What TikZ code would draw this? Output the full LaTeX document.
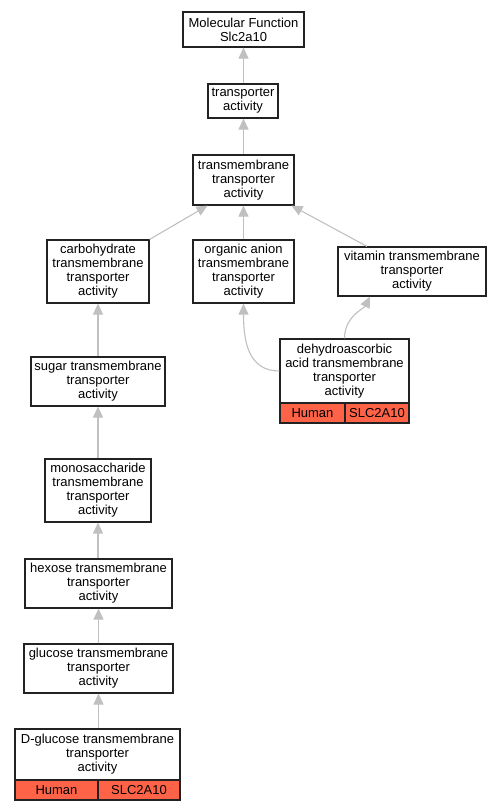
\documentclass[tikz,border=0pt]{standalone}
\usepackage{fontspec}
\setmainfont{Liberation Sans}
\usetikzlibrary{arrows.meta}
\definecolor{edgegray}{HTML}{C0C0C0}
\definecolor{boxline}{HTML}{222222}
\definecolor{orgred}{HTML}{FF6347}
\begin{document}
\begin{tikzpicture}[x=1pt,y=-1pt,
  term/.style={draw=boxline, line width=1.2pt, fill=white, align=center, inner sep=0pt,
    font=\fontsize{13}{14}\selectfont},
  cell/.style={draw=boxline, line width=1.2pt, fill=orgred, inner sep=0pt,
    minimum height=20pt, font=\fontsize{13}{14}\selectfont},
  isa/.style={draw=edgegray, line width=1.1pt, -{Triangle[length=11pt,width=10pt]}}
]
\useasboundingbox (0,0) rectangle (501,811);
\node[term, minimum width=121pt, minimum height=35pt] (mf) at (243.5,29.5) {Molecular Function\\Slc2a10};
\node[term, minimum width=70pt, minimum height=34pt] (ta) at (243,101) {transporter\\activity};
\node[term, minimum width=101pt, minimum height=50pt] (tm) at (243.5,180) {transmembrane\\transporter\\activity};
\node[term, minimum width=102pt, minimum height=63pt] (carb) at (98,271.5) {carbohydrate\\transmembrane\\transporter\\activity};
\node[term, minimum width=101pt, minimum height=63pt] (oa) at (243.5,271.5) {organic anion\\transmembrane\\transporter\\activity};
\node[term, minimum width=148pt, minimum height=49pt] (vit) at (412,271.5) {vitamin transmembrane\\transporter\\activity};
\node[term, minimum width=129pt, minimum height=64pt] (dha) at (344.5,371) {dehydroascorbic\\acid transmembrane\\transporter\\activity};
\node[cell, minimum width=65pt] (dhah) at (312.5,413) {Human};
\node[cell, minimum width=64pt] (dhag) at (377,413) {SLC2A10};
\node[term, minimum width=134pt, minimum height=49pt] (sug) at (98,381.5) {sugar transmembrane\\transporter\\activity};
\node[term, minimum width=106pt, minimum height=63pt] (mono) at (98,490.5) {monosaccharide\\transmembrane\\transporter\\activity};
\node[term, minimum width=147pt, minimum height=49pt] (hex) at (98.5,583.5) {hexose transmembrane\\transporter\\activity};
\node[term, minimum width=149pt, minimum height=49pt] (glc) at (98.5,668.5) {glucose transmembrane\\transporter\\activity};
\node[term, minimum width=165pt, minimum height=51pt] (dglc) at (97.5,754.5) {D-glucose transmembrane\\transporter\\activity};
\node[cell, minimum width=83pt] (dglch) at (56.5,790) {Human};
\node[cell, minimum width=82pt] (dglcg) at (139,790) {SLC2A10};

\draw[isa] (ta.north -| mf.south) -- (mf.south);
\draw[isa] (tm.north -| mf.south) -- (ta.south -| mf.south);
\draw[isa] (oa) -- (tm);
\draw[isa] (carb.north east) -- ([xshift=-36pt]tm.south);
\draw[isa] ([xshift=-45pt]vit.north) -- ([xshift=48pt]tm.south);
\draw[isa] (dha.west) .. controls +(-30,0) and +(0,40) .. (oa.south);
\draw[isa] (dha.north) .. controls +(0,-22) and +(-6,12) .. ([xshift=-42pt]vit.south);
\draw[isa] (sug.north -| carb.south) -- (carb.south);
\draw[isa] (mono.north -| sug.south) -- (sug.south);
\draw[isa] (hex.north -| mono.south) -- (mono.south);
\draw[isa] (glc.north -| hex.south) -- (hex.south);
\draw[isa] (dglc.north -| glc.south) -- (glc.south);
\end{tikzpicture}
\end{document}
